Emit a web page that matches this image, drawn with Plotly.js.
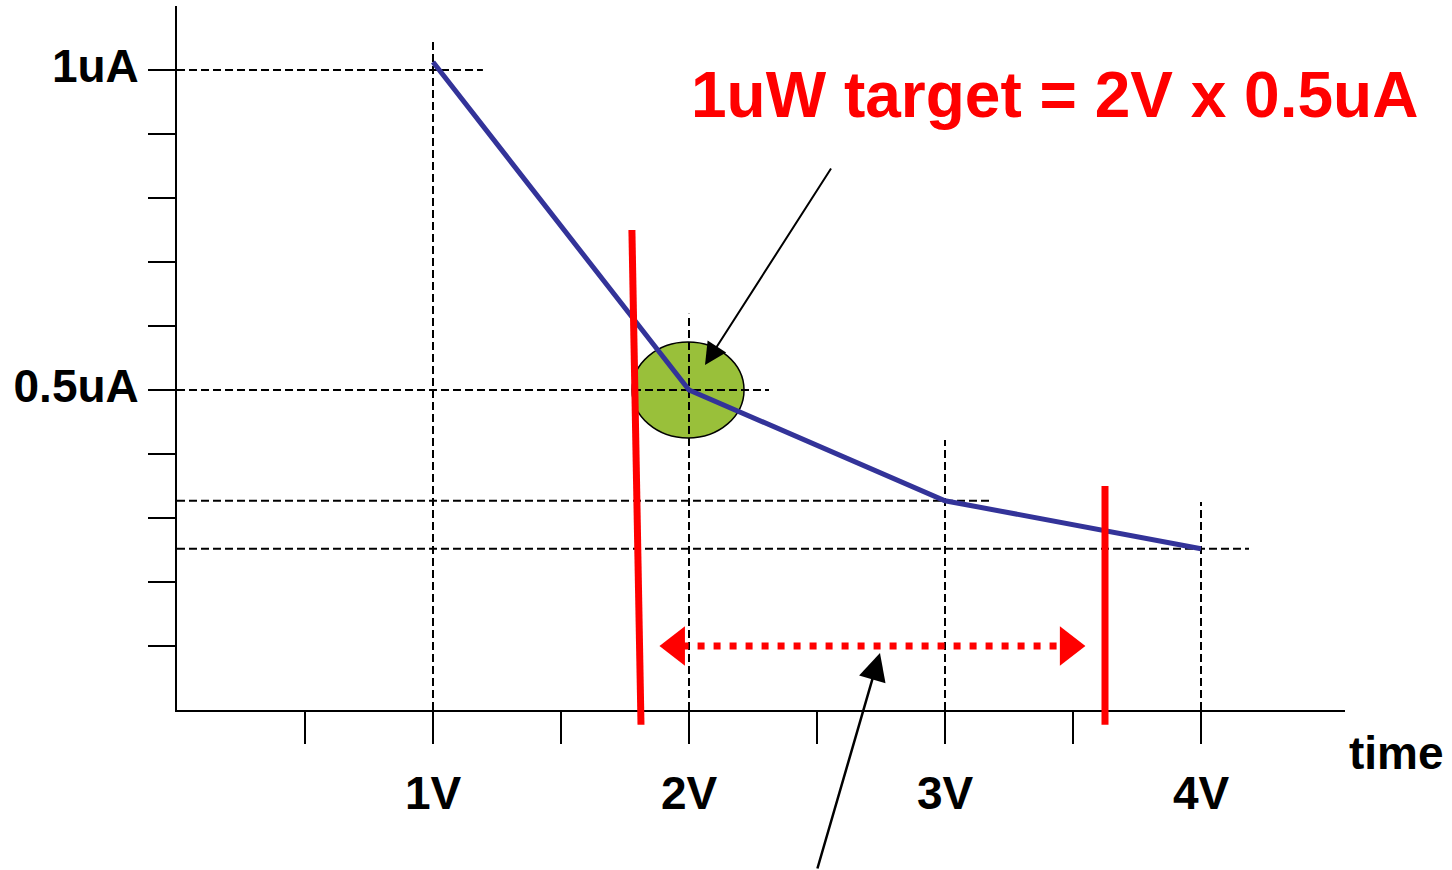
<!DOCTYPE html>
<html>
<head>
<meta charset="utf-8">
<script src="https://cdn.plot.ly/plotly-3.0.1.min.js"></script>
<style>
  html, body { margin: 0; padding: 0; background: #ffffff; }
  #chart { width: 1452px; height: 870px; }
</style>
</head>
<body>
<div id="chart"></div>
<script>
// ---- data ----
const voltage = [1, 2, 3, 4];                 // V (x positions of points)
const current = [1.0125, 0.5, 0.327, 0.252];  // uA
const xTickVals = [0.5, 1, 1.5, 2, 2.5, 3, 3.5, 4];
const xTickText = ['', '1V', '', '2V', '', '3V', '', '4V'];
const yTickVals = [0.1, 0.2, 0.3, 0.4, 0.5, 0.6, 0.7, 0.8, 0.9, 1.0];
const yTickText = ['', '', '', '', '0.5uA', '', '', '', '', '1uA'];
const hGuideY = [1.0, 0.5, 0.327, 0.252];     // horizontal dashed guide levels
const hGuideEnd = [1.195, 2.3125, 3.1875, 4.1875];
const vGuideTop = [1.05, 0.619, 0.422, 0.325];
const targetV = 2, targetI = 0.5;
const rangeLow = [1.777, 0.75, 1.8125, -0.023];   // slanted red bound (x0,y0,x1,y1)
const rangeHigh = [3.625, 0.35, 3.625, -0.023];   // vertical red bound
const arrowSpan = [1.951, 3.482, 0.1];            // dotted double arrow (left, right, y)

const XMAX = 4.5625, YMAX = 1.1;
const px = v => v / XMAX;   // data x -> paper
const py = v => v / YMAX;   // data y -> paper

const FONT = 'Liberation Sans, Arial, sans-serif';
const dashStyle = '8px,4px';

const shapes = [];
// green ellipse around target point
shapes.push({
  type: 'circle', xref: 'x', yref: 'y', layer: 'below',
  x0: targetV - 0.2225, x1: targetV + 0.215, y0: targetI - 0.075, y1: targetI + 0.075,
  fillcolor: '#99c03a', line: {color: '#000000', width: 1.5}
});
// dashed guides
for (let i = 0; i < voltage.length; i++) {
  shapes.push({type: 'line', xref: 'x', yref: 'y', layer: 'below',
    x0: 0, x1: hGuideEnd[i], y0: hGuideY[i], y1: hGuideY[i],
    line: {color: '#000000', width: 2, dash: dashStyle}});
  shapes.push({type: 'line', xref: 'x', yref: 'y', layer: 'below',
    x0: voltage[i], x1: voltage[i], y0: 0, y1: vGuideTop[i],
    line: {color: '#000000', width: 2, dash: dashStyle}});
}
// red bounds (paper refs so they may run past the axis)
shapes.push({type: 'line', xref: 'paper', yref: 'paper', layer: 'above',
  x0: px(rangeLow[0]), y0: py(rangeLow[1]), x1: px(rangeLow[2]), y1: py(rangeLow[3]),
  line: {color: '#ff0000', width: 7}});
shapes.push({type: 'line', xref: 'paper', yref: 'paper', layer: 'above',
  x0: px(rangeHigh[0]), y0: py(rangeHigh[1]), x1: px(rangeHigh[2]), y1: py(rangeHigh[3]),
  line: {color: '#ff0000', width: 7}});

const traces = [
  {
    type: 'scatter', mode: 'lines', x: voltage, y: current,
    line: {color: '#333399', width: 5}, hoverinfo: 'skip', showlegend: false
  },
  {
    type: 'scatter', mode: 'lines', x: [arrowSpan[0] + 0.02, arrowSpan[1] - 0.02], y: [arrowSpan[2], arrowSpan[2]],
    line: {color: '#ff0000', width: 7, dash: '7px,9px'}, hoverinfo: 'skip', showlegend: false
  },
  {
    type: 'scatter', mode: 'markers', x: [arrowSpan[0], arrowSpan[1]], y: [arrowSpan[2], arrowSpan[2]],
    marker: {symbol: ['triangle-left', 'triangle-right'], size: 34, color: '#ff0000', line: {width: 0}},
    cliponaxis: false, hoverinfo: 'skip', showlegend: false
  }
];

const layout = {
  width: 1452, height: 870,
  margin: {l: 177, r: 107, t: 6, b: 160, pad: 0},
  paper_bgcolor: '#ffffff', plot_bgcolor: '#ffffff',
  showlegend: false,
  xaxis: {
    range: [0, XMAX], showgrid: false, zeroline: false,
    showline: true, linecolor: '#000000', linewidth: 2,
    ticks: 'outside', ticklen: 32, tickwidth: 2, tickcolor: '#000000',
    tickmode: 'array', tickvals: xTickVals, ticktext: xTickText,
    ticklabelstandoff: 10,
    tickfont: {family: FONT, size: 46, color: '#000000', weight: 'bold'},
    fixedrange: true
  },
  yaxis: {
    range: [0, YMAX], showgrid: false, zeroline: false,
    showline: true, linecolor: '#000000', linewidth: 2,
    ticks: 'outside', ticklen: 27, tickwidth: 2, tickcolor: '#000000',
    tickmode: 'array', tickvals: yTickVals, ticktext: yTickText,
    ticklabelstandoff: 0, ticklabelshift: -4,
    tickfont: {family: FONT, size: 46, color: '#000000', weight: 'bold'},
    fixedrange: true
  },
  shapes: shapes,
  annotations: [
    {
      xref: 'paper', yref: 'paper', x: 0.7513, y: 0.874, xanchor: 'center', yanchor: 'middle',
      text: '1uW target = 2V x 0.5uA', showarrow: false,
      font: {family: FONT, size: 64, color: '#ff0000', weight: 'bold'}
    },
    {
      xref: 'paper', yref: 'paper', x: 1.0445, y: -0.061, xanchor: 'center', yanchor: 'middle',
      text: 'time', showarrow: false,
      font: {family: FONT, size: 46, color: '#000000', weight: 'bold'}
    },
    {
      xref: 'x', yref: 'y', x: 2.0625, y: 0.539, text: '', showarrow: true,
      ax: 127, ay: -198, arrowhead: 2, arrowsize: 2.2, arrowwidth: 2, arrowcolor: '#000000', standoff: 0
    },
    {
      xref: 'x', yref: 'y', x: 2.746, y: 0.089, text: '', showarrow: true,
      ax: -63, ay: 217, arrowhead: 2, arrowsize: 2.2, arrowwidth: 2.5, arrowcolor: '#000000', standoff: 0
    }
  ]
};

Plotly.newPlot('chart', traces, layout, {staticPlot: true, displayModeBar: false});
</script>
</body>
</html>
